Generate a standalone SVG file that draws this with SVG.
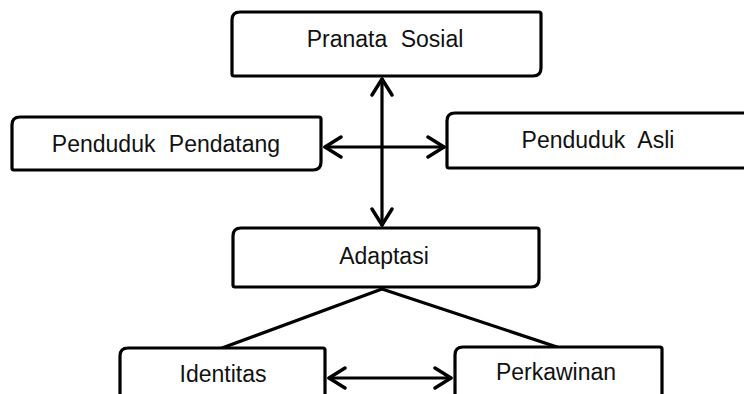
<svg xmlns="http://www.w3.org/2000/svg" width="744" height="394" viewBox="0 0 744 394">
<defs>
<style>
.box{fill:#fff;stroke:#000;stroke-width:3.2;stroke-linejoin:round}
.lbl{font-family:"Liberation Sans",Arial,sans-serif;font-size:23px;fill:#111;text-anchor:middle;word-spacing:7px}
.conn{stroke:#000;stroke-width:3.2;fill:none;stroke-linecap:round}
.arr{marker-start:url(#ah);marker-end:url(#ah)}
</style>
<marker id="ah" markerUnits="userSpaceOnUse" viewBox="-20 -12 24 24" refX="0" refY="0" markerWidth="24" markerHeight="24" orient="auto-start-reverse">
<path d="M-16,-10 L0,0 L-16,10" fill="none" stroke="#000" stroke-width="3.4" stroke-linecap="round" stroke-linejoin="round"/>
</marker>
</defs>
<rect width="744" height="394" fill="#fff"/>
<g id="connectors">
<line class="conn arr" x1="382" y1="79" x2="382" y2="225"/>
<line class="conn arr" x1="325" y1="147" x2="444" y2="147"/>
<line class="conn arr" x1="329" y1="378" x2="451" y2="378"/>
<line class="conn" x1="382" y1="289" x2="222" y2="348"/>
<line class="conn" x1="382" y1="289" x2="557" y2="347"/>
</g>
<g id="pranata">
<path class="box" d="M240,12 H539 Q541,12 541,14 V68 Q541,76 533,76 H234 Q232,76 232,74 V20 Q232,12 240,12 Z"/>
<text class="lbl" x="385" y="47">Pranata Sosial</text>
</g>
<g id="pendatang">
<path class="box" d="M20,117 H319 Q321,117 321,119 V162 Q321,170 313,170 H14 Q12,170 12,168 V125 Q12,117 20,117 Z"/>
<text class="lbl" x="166" y="152">Penduduk Pendatang</text>
</g>
<g id="asli">
<path class="box" d="M455,113 H750 Q752,113 752,115 V160 Q752,168 744,168 H449 Q447,168 447,166 V121 Q447,113 455,113 Z"/>
<text class="lbl" x="598" y="148">Penduduk Asli</text>
</g>
<g id="adaptasi">
<path class="box" d="M241,228 H537 Q539,228 539,230 V279 Q539,287 531,287 H235 Q233,287 233,285 V236 Q233,228 241,228 Z"/>
<text class="lbl" x="384" y="264">Adaptasi</text>
</g>
<g id="identitas">
<path class="box" d="M128,348 H323 Q325,348 325,350 V410 H120 V356 Q120,348 128,348 Z"/>
<text class="lbl" x="223" y="382">Identitas</text>
</g>
<g id="perkawinan">
<path class="box" d="M463,347 H660 Q662,347 662,349 V410 H455 V355 Q455,347 463,347 Z"/>
<text class="lbl" x="556" y="380">Perkawinan</text>
</g>
</svg>
